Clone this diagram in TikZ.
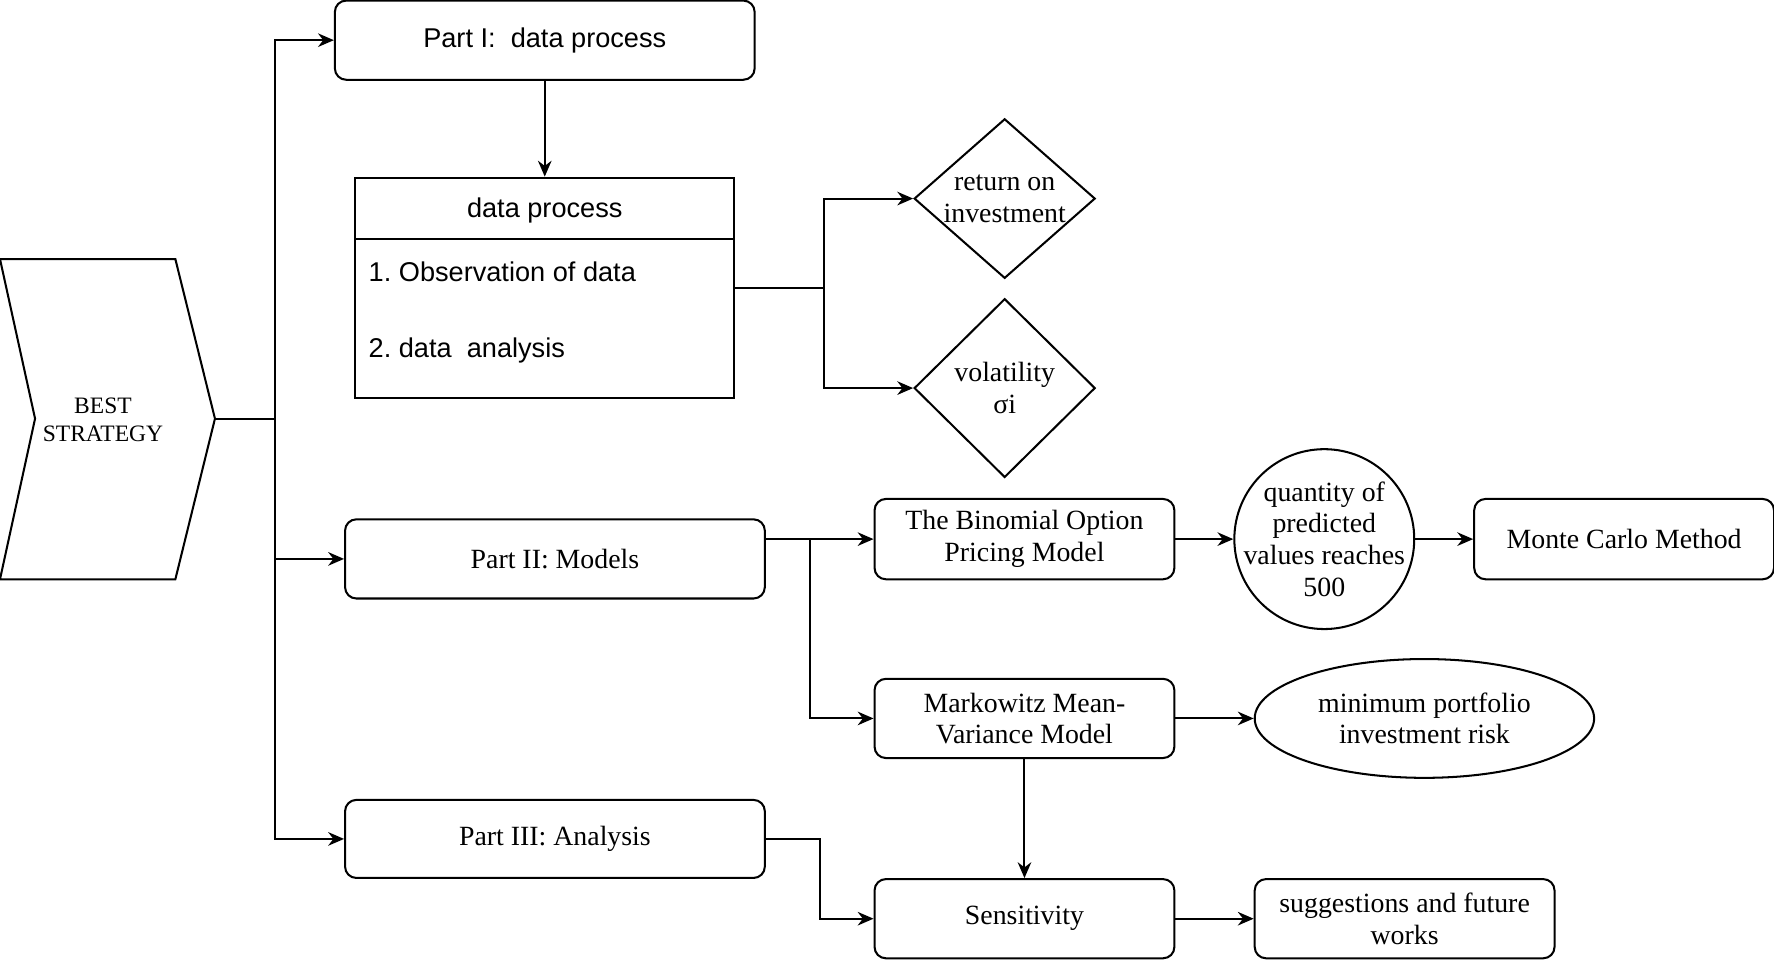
\documentclass[tikz,border=0pt]{standalone}
\usepackage{fontspec}
\setmainfont{Liberation Serif}
\setsansfont{Liberation Sans}
\usetikzlibrary{shapes.geometric, arrows.meta, positioning}

\begin{document}
\begin{tikzpicture}[
    x=0.5pt, y=-0.5pt,
    line width=0.9pt,
    >={Stealth[length=7pt, width=6pt]},
    txt/.style={font=\fontsize{12.3}{14}\selectfont, align=center, inner sep=1pt},
    sans/.style={font=\sffamily\fontsize{12}{14}\selectfont, inner sep=1pt},
    block/.style={rectangle, draw, rounded corners=5pt, txt, minimum width=132.5pt, minimum height=35pt},
    part/.style={block, minimum width=185.5pt},
    dia/.style={diamond, draw, inner sep=0pt, minimum width=80pt},
    arrow/.style={->}
]
\useasboundingbox (0,0) rectangle (1568,848);

% Start shape
\draw (0,229) -- (155,229) -- (190,370) -- (155,512) -- (0,512) -- (31,370) -- cycle;
\node[txt, font=\fontsize{10.4}{12.5}\selectfont] (best) at (91,371) {BEST\\STRATEGY};
\coordinate (tip) at (190,370);
\coordinate (split) at (243,370);

% Part I
\node[part, sans] (part1) at (481.5,35.5) {\raisebox{-1pt}{Part I:\ \ data process}};
\node[draw, minimum width=167.5pt, minimum height=97.5pt] (dbox) at (481.5,254.5) {};
\coordinate (hline) at (0,211);
\draw (dbox.west |- hline) -- (dbox.east |- hline);
\node[sans] (dhead) at (481.5,186) {data process};
\node[sans, anchor=west] (obs) at (323,240) {1.\ Observation of data};
\node[sans, anchor=west] (ana) at (323,310) {2.\ data\ \ analysis};
\node[dia, minimum height=70.5pt] (ret) at (888,175.5) {};
\node[txt] (rettxt) at (ret) {return on\\investment};
\node[dia, minimum height=79pt] (vol) at (888,343) {};
\node[txt] (voltxt) at (vol) {volatility\\σi};
\coordinate (dsplit) at (728,254.5);

% Part II
\node[part] (part2) at (490.5,494) {Part II: Models};
\node[block, minimum height=35.5pt] (bin) at (905.5,476.5) {The Binomial Option\\Pricing Model};
\node[circle, draw, minimum size=79.5pt, inner sep=0pt] (qty) at (1170.5,476.5) {};
\node[txt] (qtytxt) at (qty) {quantity of\\predicted\\values reaches\\500};
\node[block, minimum height=35.5pt] (monte) at (1435.5,476.5) {Monte Carlo Method};
\node[block] (mark) at (905.5,635) {Markowitz Mean-\\Variance Model};
\node[ellipse, draw, txt, minimum width=150pt, minimum height=52.5pt] (minrisk) at (1259,635) {minimum portfolio\\investment risk};
\coordinate (msplit) at (716,476.5);

% Part III
\node[part, minimum height=34.5pt] (part3) at (490.5,741.5) {Part III: Analysis};
\node[block] (sens) at (905.5,812) {Sensitivity};
\node[block] (sugg) at (1241.5,812) {suggestions and future\\works};

% Paths
\draw (tip) -- (split);
\draw[arrow] (split) |- (part1);
\draw[arrow] (split) |- (part2);
\draw[arrow] (split) |- (part3);
\draw[arrow] (part1) -- (dbox);
\draw (dbox.east) -- (dsplit);
\draw[arrow] (dsplit) |- (ret);
\draw[arrow] (dsplit) |- (vol);
\draw[arrow] (part2.east |- bin) -- (bin);
\draw[arrow] (msplit) |- (mark);
\draw[arrow] (bin) -- (qty);
\draw[arrow] (qty) -- (monte);
\draw[arrow] (mark) -- (minrisk);
\draw[arrow] (mark) -- (sens);
\draw[arrow] (part3.east) -- ++(48,0) |- (sens);
\draw[arrow] (sens) -- (sugg);

\end{tikzpicture}
\end{document}
